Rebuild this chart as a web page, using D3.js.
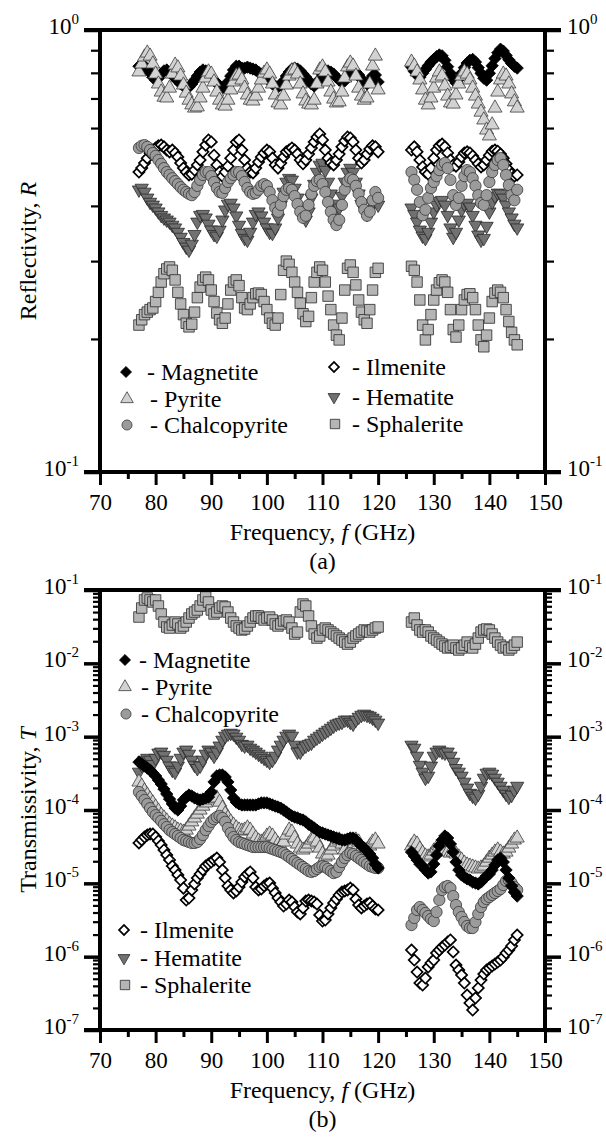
<!DOCTYPE html>
<html>
<head>
<meta charset="utf-8">
<script src="https://cdn.jsdelivr.net/npm/d3@7"></script>
<style>
  body { margin: 0; background: #fff; }
  svg { display: block; }
  text { font-family: "Liberation Serif", "Times New Roman", serif; fill: #000; }
</style>
</head>
<body>
<div id="chart-area"></div>
<script>
// frequency grid (GHz): two measured bands
const freqLow = [77,77.5,78,78.5,79,79.5,80,80.5,81,81.5,82,82.5,83,83.5,84,84.5,85,85.5,86,86.5,
  87,87.5,88,88.5,89,89.5,90,90.5,91,91.5,92,92.5,93,93.5,94,94.5,95,95.5,96,96.5,
  97,97.5,98,98.5,99,99.5,100,100.5,101,101.5,102,102.5,103,103.5,104,104.5,105,105.5,106,106.5,
  107,107.5,108,108.5,109,109.5,110,110.5,111,111.5,112,112.5,113,113.5,114,114.5,115,115.5,116,116.5,
  117,117.5,118,118.5,119,119.5,120];
const freqHigh = [126,126.5,127,127.5,128,128.5,129,129.5,130,130.5,131,131.5,132,132.5,133,133.5,134,134.5,135,135.5,
  136,136.5,137,137.5,138,138.5,139,139.5,140,140.5,141,141.5,142,142.5,143,143.5,144,144.5,145];

const xTicks = [70,80,90,100,110,120,130,140,150];
const xMinor = [75,85,95,105,115,125,135,145];

// (a) reflectivity
const reflMagnetite = [
  0.828,0.837,0.828,0.816,0.799,0.782,0.770,0.778,0.795,0.808,
  0.812,0.803,0.791,0.778,0.767,0.755,0.747,0.739,0.743,0.755,
  0.770,0.787,0.803,0.812,0.808,0.795,0.782,0.770,0.759,0.747,
  0.739,0.743,0.763,0.787,0.812,0.828,0.828,0.820,0.820,0.824,
  0.820,0.816,0.812,0.803,0.795,0.787,0.778,0.767,0.755,0.747,
  0.743,0.751,0.767,0.787,0.803,0.816,0.820,0.816,0.808,0.795,
  0.782,0.767,0.755,0.747,0.759,0.774,0.791,0.803,0.808,0.803,
  0.795,0.782,0.770,0.763,0.767,0.782,0.799,0.808,0.803,0.791,
  0.774,0.763,0.755,0.767,0.787,0.791,0.763,
  0.825,0.806,0.790,0.782,0.798,0.814,0.830,0.846,0.858,0.870,
  0.878,0.874,0.854,0.826,0.798,0.774,0.759,0.774,0.798,0.822,
  0.842,0.854,0.858,0.846,0.822,0.798,0.778,0.770,0.798,0.830,
  0.862,0.888,0.905,0.896,0.876,0.856,0.840,0.828,0.820];
const reflPyrite = [
  0.804,0.838,0.869,0.887,0.873,0.838,0.795,0.755,0.724,0.705,
  0.702,0.739,0.795,0.833,0.821,0.787,0.751,0.720,0.694,0.677,
  0.666,0.670,0.702,0.739,0.779,0.804,0.795,0.763,0.724,0.694,
  0.677,0.673,0.694,0.732,0.763,0.787,0.791,0.771,0.739,0.713,
  0.694,0.691,0.709,0.739,0.771,0.799,0.812,0.795,0.755,0.713,
  0.684,0.677,0.709,0.751,0.787,0.808,0.812,0.795,0.755,0.717,
  0.691,0.680,0.677,0.694,0.755,0.812,0.825,0.804,0.763,0.724,
  0.698,0.684,0.688,0.724,0.779,0.825,0.842,0.829,0.787,0.739,
  0.709,0.694,0.702,0.755,0.829,0.873,0.732,
  0.846,0.829,0.804,0.771,0.732,0.694,0.677,0.702,0.739,0.779,
  0.804,0.787,0.747,0.709,0.684,0.680,0.713,0.755,0.787,0.804,
  0.795,0.771,0.739,0.709,0.680,0.652,0.626,0.594,0.576,0.610,
  0.666,0.724,0.771,0.795,0.787,0.755,0.717,0.688,0.666];
const reflChalcopyrite = [
  0.541,0.547,0.549,0.544,0.535,0.527,0.519,0.508,0.498,0.487,
  0.477,0.470,0.462,0.455,0.448,0.441,0.435,0.430,0.426,0.423,
  0.430,0.444,0.458,0.470,0.477,0.477,0.467,0.453,0.439,0.430,
  0.428,0.439,0.453,0.462,0.470,0.477,0.477,0.467,0.453,0.439,
  0.430,0.426,0.428,0.435,0.444,0.448,0.444,0.430,0.412,0.396,
  0.388,0.402,0.421,0.435,0.439,0.435,0.421,0.404,0.388,0.376,
  0.380,0.402,0.426,0.444,0.455,0.458,0.448,0.430,0.408,0.388,
  0.372,0.362,0.372,0.402,0.435,0.455,0.462,0.458,0.444,0.426,
  0.408,0.392,0.380,0.388,0.412,0.430,0.417,
  0.477,0.458,0.435,0.408,0.381,0.392,0.417,0.439,0.453,0.467,
  0.482,0.495,0.500,0.487,0.458,0.423,0.402,0.417,0.444,0.467,
  0.482,0.477,0.462,0.444,0.423,0.406,0.402,0.423,0.453,0.477,
  0.495,0.508,0.513,0.495,0.470,0.446,0.423,0.412,0.435];
const reflIlmenite = [
  0.477,0.487,0.500,0.513,0.527,0.535,0.541,0.547,0.549,0.544,
  0.535,0.530,0.535,0.527,0.516,0.500,0.487,0.477,0.470,0.472,
  0.482,0.495,0.508,0.530,0.549,0.564,0.558,0.521,0.495,0.477,
  0.467,0.477,0.492,0.513,0.535,0.558,0.564,0.535,0.508,0.487,
  0.477,0.475,0.487,0.503,0.516,0.527,0.535,0.530,0.513,0.495,
  0.487,0.500,0.516,0.530,0.535,0.541,0.535,0.524,0.508,0.498,
  0.508,0.524,0.541,0.558,0.573,0.582,0.564,0.535,0.513,0.500,
  0.495,0.508,0.524,0.544,0.561,0.573,0.570,0.558,0.535,0.513,
  0.500,0.508,0.524,0.538,0.547,0.544,0.530,
  0.535,0.544,0.530,0.508,0.490,0.477,0.472,0.487,0.513,0.535,
  0.547,0.552,0.544,0.527,0.508,0.495,0.492,0.503,0.516,0.527,
  0.530,0.527,0.519,0.508,0.498,0.490,0.495,0.508,0.521,0.532,
  0.535,0.532,0.524,0.513,0.498,0.482,0.472,0.467,0.470];
const reflHematite = [
  0.435,0.439,0.430,0.417,0.408,0.402,0.396,0.388,0.381,0.376,
  0.372,0.368,0.362,0.357,0.349,0.340,0.331,0.323,0.318,0.328,
  0.345,0.368,0.381,0.383,0.376,0.364,0.353,0.345,0.342,0.353,
  0.372,0.392,0.404,0.406,0.396,0.380,0.362,0.347,0.338,0.335,
  0.349,0.368,0.383,0.388,0.380,0.368,0.357,0.349,0.347,0.357,
  0.376,0.402,0.430,0.453,0.462,0.458,0.439,0.417,0.396,0.380,
  0.372,0.388,0.417,0.448,0.477,0.495,0.500,0.482,0.453,0.426,
  0.404,0.392,0.396,0.421,0.453,0.477,0.487,0.477,0.453,0.426,
  0.404,0.392,0.383,0.392,0.404,0.412,0.402,
  0.396,0.383,0.368,0.353,0.342,0.338,0.349,0.368,0.388,0.402,
  0.410,0.412,0.402,0.381,0.357,0.340,0.349,0.372,0.392,0.404,
  0.406,0.398,0.381,0.362,0.344,0.335,0.338,0.360,0.388,0.408,
  0.421,0.428,0.426,0.417,0.402,0.388,0.376,0.364,0.357];
const reflSphalerite = [
  0.215,0.221,0.227,0.230,0.233,0.235,0.243,0.255,0.269,0.281,
  0.288,0.291,0.286,0.272,0.255,0.240,0.227,0.217,0.213,0.216,
  0.230,0.248,0.262,0.272,0.276,0.272,0.258,0.243,0.229,0.221,
  0.217,0.223,0.240,0.258,0.269,0.272,0.264,0.248,0.235,0.233,
  0.240,0.248,0.253,0.254,0.252,0.243,0.233,0.223,0.217,0.215,
  0.223,0.252,0.286,0.300,0.295,0.283,0.269,0.255,0.241,0.228,
  0.219,0.225,0.248,0.269,0.283,0.291,0.286,0.269,0.250,0.233,
  0.215,0.204,0.199,0.223,0.258,0.289,0.294,0.283,0.265,0.245,
  0.230,0.221,0.217,0.233,0.258,0.283,0.289,
  0.292,0.286,0.269,0.245,0.215,0.199,0.210,0.227,0.245,0.258,
  0.268,0.272,0.269,0.255,0.233,0.210,0.202,0.215,0.233,0.245,
  0.252,0.253,0.248,0.233,0.215,0.199,0.192,0.204,0.223,0.243,
  0.254,0.258,0.255,0.248,0.233,0.219,0.207,0.199,0.194];

// (b) transmissivity
const transMagnetite = [
  4.5e-4,4.24e-4,3.98e-4,3.74e-4,3.51e-4,3.19e-4,2.91e-4,2.56e-4,2.26e-4,1.93e-4,
  1.65e-4,1.41e-4,1.21e-4,1.06e-4,1.0e-4,1.13e-4,1.37e-4,1.50e-4,1.60e-4,1.55e-4,
  1.46e-4,1.41e-4,1.37e-4,1.41e-4,1.46e-4,1.50e-4,1.76e-4,2.41e-4,2.91e-4,3.0e-4,
  3.0e-4,2.82e-4,2.41e-4,1.87e-4,1.46e-4,1.28e-4,1.21e-4,1.17e-4,1.17e-4,1.17e-4,
  1.17e-4,1.17e-4,1.17e-4,1.21e-4,1.25e-4,1.25e-4,1.25e-4,1.21e-4,1.17e-4,1.13e-4,
  1.10e-4,1.06e-4,1.0e-4,9.4e-5,8.8e-5,8.3e-5,8.0e-5,7.8e-5,7.5e-5,7.3e-5,
  6.9e-5,6.4e-5,6.05e-5,5.7e-5,5.33e-5,5.0e-5,4.86e-5,4.7e-5,4.56e-5,4.42e-5,
  4.28e-5,4.15e-5,4.02e-5,3.9e-5,3.9e-5,4.02e-5,4.15e-5,4.15e-5,3.9e-5,3.55e-5,
  3.23e-5,3.03e-5,2.76e-5,2.51e-5,2.21e-5,1.83e-5,1.62e-5,
  2.67e-5,2.36e-5,2.08e-5,1.83e-5,1.72e-5,1.52e-5,1.38e-5,1.43e-5,1.83e-5,2.43e-5,
  3.23e-5,3.9e-5,4.42e-5,4.15e-5,3.44e-5,2.67e-5,1.95e-5,1.52e-5,1.30e-5,1.22e-5,
  1.15e-5,1.11e-5,1.04e-5,1.01e-5,9.8e-6,1.04e-5,1.15e-5,1.26e-5,1.34e-5,1.52e-5,
  1.78e-5,2.08e-5,2.21e-5,1.95e-5,1.52e-5,1.18e-5,9.2e-6,7.6e-6,6.7e-6];
const transPyrite = [
  2.41e-4,2.12e-4,1.82e-4,1.60e-4,1.41e-4,1.25e-4,1.10e-4,9.7e-5,8.5e-5,7.8e-5,
  7.1e-5,6.4e-5,6.05e-5,5.7e-5,5.33e-5,5.17e-5,5.0e-5,5.33e-5,6.05e-5,6.9e-5,
  7.8e-5,8.8e-5,1.0e-4,1.13e-4,1.25e-4,1.37e-4,1.46e-4,1.50e-4,1.46e-4,1.28e-4,
  1.06e-4,8.8e-5,7.8e-5,6.9e-5,6.24e-5,5.7e-5,5.33e-5,5.17e-5,5.33e-5,5.7e-5,
  5.33e-5,4.7e-5,4.15e-5,3.78e-5,3.66e-5,3.9e-5,4.42e-5,4.7e-5,4.42e-5,3.9e-5,
  3.44e-5,3.23e-5,3.66e-5,4.56e-5,5.33e-5,5.0e-5,4.15e-5,3.44e-5,3.03e-5,2.85e-5,
  3.03e-5,3.44e-5,3.9e-5,4.15e-5,3.66e-5,3.03e-5,2.51e-5,2.29e-5,2.43e-5,2.85e-5,
  3.23e-5,3.66e-5,3.9e-5,3.44e-5,2.85e-5,2.51e-5,2.67e-5,3.23e-5,3.9e-5,3.66e-5,
  3.03e-5,2.67e-5,2.85e-5,3.23e-5,3.66e-5,3.9e-5,3.44e-5,
  3.23e-5,3.66e-5,3.44e-5,2.94e-5,2.59e-5,2.36e-5,2.29e-5,2.43e-5,2.76e-5,3.03e-5,
  3.23e-5,3.03e-5,2.85e-5,2.67e-5,2.59e-5,2.67e-5,2.51e-5,2.29e-5,2.08e-5,1.89e-5,
  1.78e-5,1.72e-5,1.67e-5,1.62e-5,1.57e-5,1.62e-5,1.72e-5,1.95e-5,2.21e-5,2.43e-5,
  2.67e-5,2.85e-5,2.67e-5,2.51e-5,2.67e-5,3.03e-5,3.44e-5,3.9e-5,4.15e-5];
const transChalcopyrite = [
  1.76e-4,1.55e-4,1.37e-4,1.21e-4,1.06e-4,9.4e-5,8.5e-5,7.8e-5,7.1e-5,6.4e-5,
  5.86e-5,5.33e-5,5.0e-5,4.7e-5,4.42e-5,4.15e-5,3.9e-5,3.78e-5,3.66e-5,3.55e-5,
  3.55e-5,3.66e-5,4.02e-5,4.56e-5,5.33e-5,6.05e-5,6.9e-5,7.5e-5,8.0e-5,8.3e-5,
  7.8e-5,6.9e-5,5.7e-5,4.86e-5,4.28e-5,3.9e-5,3.66e-5,3.55e-5,3.44e-5,3.33e-5,
  3.23e-5,3.13e-5,3.13e-5,3.13e-5,3.13e-5,3.13e-5,3.13e-5,3.03e-5,2.94e-5,2.85e-5,
  2.76e-5,2.67e-5,2.59e-5,2.43e-5,2.29e-5,2.15e-5,2.01e-5,1.89e-5,1.78e-5,1.67e-5,
  1.57e-5,1.47e-5,1.43e-5,1.47e-5,1.57e-5,1.67e-5,1.72e-5,1.67e-5,1.57e-5,1.47e-5,
  1.38e-5,1.43e-5,1.67e-5,1.95e-5,2.21e-5,2.43e-5,2.59e-5,2.51e-5,2.36e-5,2.21e-5,
  2.08e-5,1.95e-5,1.83e-5,1.72e-5,1.67e-5,1.62e-5,1.62e-5,
  2.70e-6,3.37e-6,4.33e-6,4.75e-6,4.33e-6,3.94e-6,3.58e-6,3.26e-6,3.06e-6,4.06e-6,
  5.92e-6,8.11e-6,8.9e-6,9.2e-6,8.6e-6,6.7e-6,5.06e-6,4.06e-6,3.47e-6,2.97e-6,
  2.62e-6,2.46e-6,2.46e-6,2.97e-6,3.82e-6,4.75e-6,5.56e-6,6.11e-6,6.51e-6,6.93e-6,
  7.38e-6,7.86e-6,8.37e-6,9.48e-6,1.08e-5,1.11e-5,1.01e-5,8.9e-6,8.11e-6];
const transIlmenite = [
  3.55e-5,3.9e-5,4.28e-5,4.56e-5,4.7e-5,4.7e-5,4.28e-5,3.78e-5,3.33e-5,2.85e-5,
  2.43e-5,2.08e-5,1.72e-5,1.52e-5,1.30e-5,1.11e-5,8.6e-6,5.92e-6,6.3e-6,8.11e-6,
  9.8e-6,1.18e-5,1.34e-5,1.52e-5,1.72e-5,1.83e-5,1.95e-5,2.08e-5,2.21e-5,1.95e-5,
  1.52e-5,1.18e-5,9.2e-6,8.11e-6,7.38e-6,7.86e-6,8.9e-6,1.04e-5,1.22e-5,1.34e-5,
  1.43e-5,1.18e-5,8.9e-6,8.11e-6,8.37e-6,9.2e-6,9.8e-6,1.01e-5,8.6e-6,7.38e-6,
  6.3e-6,5.56e-6,4.9e-6,5.22e-6,5.92e-6,5.56e-6,4.75e-6,4.06e-6,3.82e-6,4.61e-6,
  5.74e-6,5.92e-6,5.74e-6,5.56e-6,5.22e-6,3.70e-6,3.06e-6,3.16e-6,3.82e-6,4.61e-6,
  5.39e-6,6.11e-6,6.93e-6,7.61e-6,7.86e-6,8.11e-6,8.6e-6,8.11e-6,6.11e-6,5.06e-6,
  4.61e-6,4.9e-6,5.22e-6,5.39e-6,4.9e-6,4.47e-6,4.33e-6,
  1.23e-6,9.0e-7,6.17e-7,4.37e-7,4.10e-7,5.11e-7,7.22e-7,8.19e-7,9.0e-7,1.12e-6,
  1.23e-6,1.35e-6,1.44e-6,1.58e-6,1.69e-6,1.16e-6,7.69e-7,6.57e-7,5.62e-7,4.37e-7,
  3.0e-7,2.33e-7,1.87e-7,2.73e-7,3.74e-7,4.80e-7,5.80e-7,6.57e-7,7.0e-7,7.46e-7,
  7.94e-7,8.45e-7,9.0e-7,9.89e-7,1.12e-6,1.23e-6,1.40e-6,1.69e-6,1.97e-6];
const transHematite = [
  3.3e-4,4.1e-4,4.8e-4,5.1e-4,4.8e-4,4.2e-4,5.1e-4,6.0e-4,6.2e-4,5.6e-4,
  4.8e-4,4.0e-4,3.5e-4,3.3e-4,4.0e-4,5.1e-4,6.2e-4,6.6e-4,5.8e-4,4.8e-4,
  4.1e-4,3.7e-4,4.0e-4,4.8e-4,5.8e-4,6.6e-4,6.2e-4,5.45e-4,6.2e-4,7.5e-4,
  9.0e-4,1.02e-3,1.09e-3,1.12e-3,1.09e-3,9.9e-4,9.0e-4,7.9e-4,7.5e-4,7.7e-4,
  7.0e-4,6.6e-4,6.2e-4,5.8e-4,5.45e-4,5.1e-4,4.8e-4,4.5e-4,4.8e-4,5.45e-4,
  6.6e-4,7.7e-4,9.0e-4,1.02e-3,1.09e-3,1.02e-3,7.7e-4,6.2e-4,6.2e-4,7.0e-4,
  7.5e-4,7.9e-4,8.2e-4,9.0e-4,9.6e-4,1.02e-3,1.09e-3,1.16e-3,1.23e-3,1.31e-3,
  1.40e-3,1.49e-3,1.54e-3,1.58e-3,1.69e-3,1.69e-3,1.58e-3,1.49e-3,1.69e-3,1.85e-3,
  1.97e-3,2.04e-3,1.97e-3,1.91e-3,1.80e-3,1.69e-3,1.54e-3,
  7.7e-4,7.0e-4,5.45e-4,4.1e-4,3.3e-4,2.73e-4,2.91e-4,4.0e-4,5.45e-4,6.2e-4,
  6.6e-4,6.2e-4,6.0e-4,6.2e-4,5.45e-4,4.5e-4,3.7e-4,3.3e-4,2.91e-4,2.41e-4,
  2.0e-4,1.70e-4,1.55e-4,1.46e-4,1.65e-4,2.12e-4,2.73e-4,3.19e-4,3.3e-4,3.1e-4,
  2.73e-4,2.41e-4,2.12e-4,1.87e-4,1.65e-4,1.50e-4,1.60e-4,1.87e-4,2.12e-4];
const transSphalerite = [
  0.0428,0.0568,0.0731,0.0778,0.0731,0.0686,0.0731,0.0605,0.0471,0.0366,
  0.0313,0.0303,0.0333,0.0366,0.0344,0.0303,0.0323,0.0366,0.0415,0.0471,
  0.0501,0.0534,0.0605,0.0731,0.0803,0.0686,0.0534,0.0471,0.0501,0.0568,
  0.0605,0.0586,0.0501,0.0415,0.0366,0.0323,0.0303,0.0285,0.0294,0.0323,
  0.0366,0.0415,0.0442,0.0442,0.0415,0.0390,0.0415,0.0428,0.0390,0.0344,
  0.0323,0.0344,0.0378,0.0390,0.0366,0.0303,0.0251,0.0267,0.0501,0.0644,
  0.0605,0.0442,0.0323,0.0251,0.0221,0.0236,0.0285,0.0303,0.0285,0.0267,
  0.0251,0.0236,0.0221,0.0208,0.0195,0.0183,0.0195,0.0221,0.0236,0.0251,
  0.0267,0.0285,0.0276,0.0267,0.0285,0.0303,0.0313,
  0.0366,0.0415,0.0333,0.0285,0.0267,0.0285,0.0267,0.0236,0.0221,0.0208,
  0.0195,0.0183,0.0172,0.0162,0.0167,0.0177,0.0162,0.0152,0.0162,0.0177,
  0.0195,0.0172,0.0162,0.0183,0.0221,0.0267,0.0285,0.0294,0.0285,0.0251,
  0.0221,0.0195,0.0177,0.0162,0.0167,0.0152,0.0162,0.0177,0.0195];

const freq = freqLow.concat(freqHigh);

const width = 606, height = 1138;
const left = 100, right = 545;
const serif = '"Liberation Serif", "Times New Roman", serif';

const svg = d3.select('#chart-area')
  .append('svg')
  .attr('width', width)
  .attr('height', height)
  .attr('font-family', serif);

svg.append('rect').attr('width', width).attr('height', height).attr('fill', '#fff');

const x = d3.scaleLinear().domain([70, 150]).range([left, right]);

const markers = {
  Magnetite:    {type: d3.symbolSquare,   size: 76,  rot: 45,  fill: '#000',    stroke: '#000',    sw: 0.8},
  Pyrite:       {type: d3.symbolTriangle, size: 86,  rot: 0,   fill: '#d2d2d2', stroke: '#3c3c3c', sw: 0.8},
  Chalcopyrite: {type: d3.symbolCircle,   size: 100, rot: 0,   fill: '#9b9b9b', stroke: '#383838', sw: 0.8},
  Ilmenite:     {type: d3.symbolSquare,   size: 62,  rot: 45,  fill: '#fff',    stroke: '#000',    sw: 1.7},
  Hematite:     {type: d3.symbolTriangle, size: 76,  rot: 180, fill: '#717171', stroke: '#2a2a2a', sw: 0.8},
  Sphalerite:   {type: d3.symbolSquare,   size: 110, rot: 0,   fill: '#b5b5b5', stroke: '#2a2a2a', sw: 0.8}
};

function drawMarker(g, name, cx, cy, scale) {
  const m = markers[name];
  g.append('path')
    .attr('d', d3.symbol().type(m.type).size(m.size * (scale || 1))())
    .attr('transform', `translate(${cx},${cy}) rotate(${m.rot})`)
    .attr('fill', m.fill)
    .attr('stroke', m.stroke)
    .attr('stroke-width', m.sw);
}

function powLabel(g, px, py, exp, anchor) {
  const t = g.append('text')
    .attr('x', px).attr('y', py + 8)
    .attr('text-anchor', anchor)
    .attr('font-family', serif)
    .attr('font-size', 23);
  t.append('tspan').text('10');
  t.append('tspan').attr('dy', -10).attr('font-size', 15).text(exp);
}

function drawPanel(cfg) {
  const y = cfg.y;
  const [yBot, yTop] = y.range();
  const g = svg.append('g');

  // data
  cfg.order.forEach(name => {
    const vals = cfg.data[name];
    const pts = freq.map((f, i) => ({f: f, v: vals[i]})).filter(d => d.v != null);
    const sg = g.append('g');
    pts.forEach(d => drawMarker(sg, name, x(d.f), y(d.v)));
  });

  // y ticks: minor + decades, both sides
  const isDecade = v => Math.abs(Math.log10(v) - Math.round(Math.log10(v))) < 1e-6;
  const minors = y.ticks().filter(v => !isDecade(v));
  const decades = y.ticks().filter(isDecade);

  const yl = g.append('g').attr('transform', `translate(${left},0)`)
    .call(d3.axisLeft(y).tickValues(minors).tickSize(cfg.minorLen).tickFormat(''));
  const yr = g.append('g').attr('transform', `translate(${right},0)`)
    .call(d3.axisRight(y).tickValues(minors).tickSize(cfg.minorLen).tickFormat(''));
  const ylM = g.append('g').attr('transform', `translate(${left},0)`)
    .call(d3.axisLeft(y).tickValues(decades).tickSize(16).tickFormat(''));
  const yrM = g.append('g').attr('transform', `translate(${right},0)`)
    .call(d3.axisRight(y).tickValues(decades).tickSize(16).tickFormat(''));
  [yl, yr].forEach(a => { a.select('.domain').remove(); a.selectAll('line').attr('stroke', '#000').attr('stroke-width', 2.2); });
  [ylM, yrM].forEach(a => { a.select('.domain').remove(); a.selectAll('line').attr('stroke', '#000').attr('stroke-width', 3.5); });

  // x ticks
  const xa = g.append('g').attr('transform', `translate(0,${yBot})`)
    .call(d3.axisBottom(x).tickValues(xTicks).tickSize(13).tickPadding(9).tickFormat(d3.format('d')));
  const xm = g.append('g').attr('transform', `translate(0,${yBot})`)
    .call(d3.axisBottom(x).tickValues(xMinor).tickSize(7).tickFormat(''));
  [xa, xm].forEach(a => { a.select('.domain').remove(); a.selectAll('line').attr('stroke', '#000').attr('stroke-width', 3); });
  xa.attr('font-family', serif);
  xa.selectAll('text').attr('font-size', 23).attr('fill', '#000').attr('font-family', serif);

  // frame
  g.append('line').attr('x1', left).attr('x2', left).attr('y1', yTop).attr('y2', yBot)
    .attr('stroke', '#000').attr('stroke-width', 4);
  g.append('line').attr('x1', right).attr('x2', right).attr('y1', yTop).attr('y2', yBot)
    .attr('stroke', '#000').attr('stroke-width', 4);
  [yTop, yBot].forEach(yy => {
    g.append('line').attr('x1', left - 16).attr('x2', right + 16).attr('y1', yy).attr('y2', yy)
      .attr('stroke', '#000').attr('stroke-width', 4);
  });

  // decade labels
  decades.forEach(v => {
    const e = Math.round(Math.log10(v));
    powLabel(g, left - 21, y(v) - 4, String(e), 'end');
    powLabel(g, right + 22, y(v) - 4, String(e), 'start');
  });

  // axis titles
  const xt = g.append('text').attr('x', (left + right) / 2).attr('y', yBot + 68)
    .attr('text-anchor', 'middle').attr('font-size', 24).attr('font-family', serif);
  xt.append('tspan').text('Frequency, ');
  xt.append('tspan').attr('font-style', 'italic').text('f');
  xt.append('tspan').text(' (GHz)');

  g.append('text').attr('x', (left + right) / 2).attr('y', yBot + 97)
    .attr('text-anchor', 'middle').attr('font-size', 24).attr('font-family', serif).text(cfg.tag);

  const yc = (yTop + yBot) / 2;
  const yt = g.append('text').attr('transform', `translate(36,${yc}) rotate(-90)`)
    .attr('text-anchor', 'middle').attr('font-size', 24).attr('font-family', serif);
  yt.append('tspan').text(cfg.yTitle + ', ');
  yt.append('tspan').attr('font-style', 'italic').text(cfg.ySym);

  // legend
  cfg.legend.forEach(l => {
    drawMarker(g, l.name, l.mx, l.y, 0.8);
    g.append('text').attr('x', l.tx).attr('y', l.y + 8).attr('font-size', 24)
      .attr('font-family', serif).text('- ' + l.name);
  });
}

drawPanel({
  y: d3.scaleLog().domain([0.1, 1]).range([472, 30]),
  minorLen: 9,
  tag: '(a)',
  yTitle: 'Reflectivity', ySym: 'R',
  order: ['Sphalerite', 'Hematite', 'Ilmenite', 'Chalcopyrite', 'Magnetite', 'Pyrite'],
  data: {Magnetite: reflMagnetite, Pyrite: reflPyrite, Chalcopyrite: reflChalcopyrite,
         Ilmenite: reflIlmenite, Hematite: reflHematite, Sphalerite: reflSphalerite},
  legend: [
    {name: 'Magnetite', mx: 126, tx: 147, y: 372},
    {name: 'Pyrite', mx: 127, tx: 150, y: 399},
    {name: 'Chalcopyrite', mx: 127, tx: 150, y: 425},
    {name: 'Ilmenite', mx: 334, tx: 352, y: 367},
    {name: 'Hematite', mx: 334, tx: 352, y: 397},
    {name: 'Sphalerite', mx: 335, tx: 352, y: 424}
  ]
});

drawPanel({
  y: d3.scaleLog().domain([1e-7, 1e-1]).range([1030, 590]),
  minorLen: 7,
  tag: '(b)',
  yTitle: 'Transmissivity', ySym: 'T',
  order: ['Sphalerite', 'Hematite', 'Pyrite', 'Chalcopyrite', 'Magnetite', 'Ilmenite'],
  data: {Magnetite: transMagnetite, Pyrite: transPyrite, Chalcopyrite: transChalcopyrite,
         Ilmenite: transIlmenite, Hematite: transHematite, Sphalerite: transSphalerite},
  legend: [
    {name: 'Magnetite', mx: 125, tx: 139, y: 660},
    {name: 'Pyrite', mx: 125, tx: 141, y: 687},
    {name: 'Chalcopyrite', mx: 126, tx: 141, y: 714},
    {name: 'Ilmenite', mx: 124, tx: 140, y: 930},
    {name: 'Hematite', mx: 124, tx: 140, y: 958},
    {name: 'Sphalerite', mx: 125, tx: 140, y: 985}
  ]
});
</script>
</body>
</html>
